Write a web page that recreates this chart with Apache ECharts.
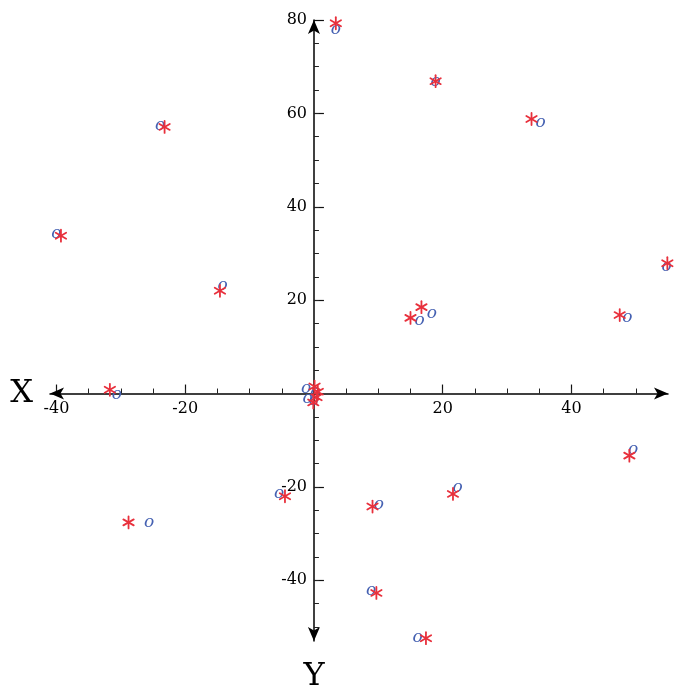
<!DOCTYPE html>
<html>
<head>
<meta charset="utf-8">
<script src="https://cdn.jsdelivr.net/npm/echarts@6/dist/echarts.min.js"></script>
<style>
html,body{margin:0;padding:0;background:#fff;}
#chart{width:675px;height:688px;}
</style>
</head>
<body>
<div id="chart"></div>
<script>
// Red asterisk points [x, y]
var redPoints = [
  [3.4, 79.3], [18.9, 66.9], [33.8, 58.8], [-23.2, 57.1], [-39.3, 33.8],
  [-14.6, 22.0], [54.9, 27.9], [16.7, 18.5], [15.0, 16.2], [47.5, 16.8],
  [-31.7, 0.8], [0.1, 1.5], [0.6, 0.4], [0.4, -0.8], [-0.1, -1.9],
  [49.0, -13.3], [21.6, -21.5], [-4.5, -22.0], [9.1, -24.2], [-28.8, -27.6],
  [9.7, -42.7], [17.4, -52.4]
];
// Blue "o" points [x, y]
var bluePoints = [
  [3.4, 77.9], [18.9, 66.9], [35.2, 58.0], [-23.9, 57.4], [-40.0, 34.3],
  [-14.2, 23.2], [54.8, 27.2], [18.3, 17.2], [16.4, 15.7], [48.7, 16.3],
  [-30.6, -0.2], [-1.2, 1.0], [-1.0, -1.1], [0.2, 0.2], [0.0, -1.6],
  [49.6, -12.0], [22.3, -20.2], [-5.4, -21.5], [10.1, -23.7], [-25.6, -27.6],
  [8.9, -42.2], [16.1, -52.2]
];
var xMajorTicks = [-40, -20, 20, 40];
var xMinorTicks = [-40, -35, -30, -25, -20, -15, -10, -5, 5, 10, 15, 20, 25, 30, 35, 40, 45, 50];
var yMajorTicks = [-40, -20, 20, 40, 60, 80];
var yMinorTicks = [-50, -45, -40, -35, -30, -25, -20, -15, -10, -5, 5, 10, 15, 20, 25, 30, 35, 40, 45, 50, 55, 60, 65, 70, 75];

var RED = '#e8303c';
var BLUE = '#4561b2';
var FONT = 'DejaVu Serif';

var chart = echarts.init(document.getElementById('chart'), null, {renderer: 'canvas'});

function baseAxis(extra) {
  return Object.assign({
    type: 'value',
    splitLine: {show: false},
    minorTick: {show: false},
    nameMoveOverlap: false
  }, extra);
}

var option = {
  backgroundColor: '#fff',
  animation: false,
  grid: {left: 50, right: 7, top: 20, bottom: 47, containLabel: false, outerBoundsMode: 'none'},
  xAxis: [
    baseAxis({
      min: -41, max: 55, position: 'bottom',
      axisLine: {show: true, onZero: true, onZeroAxisIndex: 0, symbol: ['arrow', 'arrow'], symbolSize: [9, 14],
        lineStyle: {color: '#000', width: 1.5}},
      axisTick: {show: true, inside: true, length: 9, customValues: xMajorTicks, lineStyle: {color: '#111', width: 1.2}},
      axisLabel: {show: true, customValues: xMajorTicks, fontFamily: FONT, fontSize: 16, color: '#000', margin: -240},
      name: 'X', nameLocation: 'start', nameGap: 17,
      nameTextStyle: {fontFamily: FONT, fontSize: 32, color: '#000', verticalAlign: 'middle'}
    }),
    baseAxis({
      min: -41, max: 55, position: 'top',
      axisLine: {show: false, onZero: true, onZeroAxisIndex: 0},
      axisTick: {show: true, inside: false, length: 5, customValues: xMinorTicks, lineStyle: {color: '#222', width: 1}},
      axisLabel: {show: false}
    })
  ],
  yAxis: [
    baseAxis({
      min: -53, max: 80, position: 'left',
      axisLine: {show: true, onZero: true, onZeroAxisIndex: 0, symbol: ['arrow', 'arrow'], symbolSize: [9, 14],
        lineStyle: {color: '#000', width: 1.5}},
      axisTick: {show: true, inside: true, length: 10, customValues: yMajorTicks, lineStyle: {color: '#111', width: 1.2}},
      axisLabel: {show: true, customValues: yMajorTicks, fontFamily: FONT, fontSize: 16, color: '#000', margin: -257},
      name: 'Y', nameLocation: 'start', nameGap: 20,
      nameTextStyle: {fontFamily: FONT, fontSize: 32, color: '#000', verticalAlign: 'top'}
    }),
    baseAxis({
      min: -53, max: 80, position: 'right',
      axisLine: {show: false, onZero: true, onZeroAxisIndex: 0},
      axisTick: {show: true, inside: false, length: 5, customValues: yMinorTicks, lineStyle: {color: '#222', width: 1}},
      axisLabel: {show: false}
    })
  ],
  series: [
    {
      type: 'custom',
      name: 'o',
      xAxisIndex: 0, yAxisIndex: 0,
      data: bluePoints,
      z: 3,
      renderItem: function (params, api) {
        var p = api.coord([api.value(0), api.value(1)]);
        return {
          type: 'text',
          x: p[0], y: p[1],
          style: {
            text: 'o',
            fill: BLUE,
            font: 'italic 17px "' + FONT + '"',
            align: 'center',
            verticalAlign: 'middle'
          }
        };
      }
    },
    {
      type: 'custom',
      name: '*',
      xAxisIndex: 0, yAxisIndex: 0,
      data: redPoints,
      z: 4,
      renderItem: function (params, api) {
        var p = api.coord([api.value(0), api.value(1)]);
        var r = 6, cx = p[0], cy = p[1];
        var dx = r * 0.866, dy = r * 0.5;
        var st = {stroke: RED, lineWidth: 1.8, lineCap: 'round'};
        return {
          type: 'group',
          children: [
            {type: 'line', shape: {x1: cx, y1: cy - r, x2: cx, y2: cy + r}, style: st},
            {type: 'line', shape: {x1: cx - dx, y1: cy - dy, x2: cx + dx, y2: cy + dy}, style: st},
            {type: 'line', shape: {x1: cx - dx, y1: cy + dy, x2: cx + dx, y2: cy - dy}, style: st}
          ]
        };
      }
    }
  ]
};
chart.setOption(option);
</script>
</body>
</html>
